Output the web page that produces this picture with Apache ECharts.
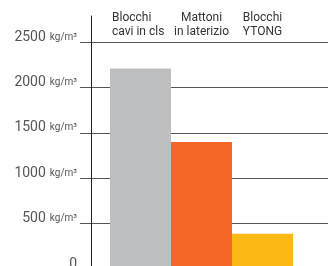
<!DOCTYPE html>
<html>
<head>
<meta charset="utf-8">
<script src="https://cdn.jsdelivr.net/npm/echarts@6/dist/echarts.min.js"></script>
<style>
  html, body { margin: 0; padding: 0; background: #fff; }
  #charts { width: 328px; height: 266px; }
</style>
</head>
<body>
<div id="charts"></div>
<script>
var categories = ['Blocchi\ncavi in cls', 'Mattoni\nin laterizio', 'Blocchi\nYTONG'];
var densities = [2210, 1400, 390];
var unit = 'kg/m³';
var barColors = ['#bdbec0', '#f46624', '#fdb913'];

var myChart = echarts.init(document.getElementById('charts'));
var font = 'Roboto';

var option = {
    animation: false,
    grid: [
        { left: 80, right: 0, top: 16, bottom: -3, outerBoundsMode: 'none' },
        { left: 110, right: 35, top: 16, bottom: -3, outerBoundsMode: 'none' }
    ],
    xAxis: [
        { gridIndex: 0, type: 'value', show: false },
        {
            gridIndex: 1,
            type: 'category',
            data: categories,
            position: 'top',
            axisLine: { show: false },
            axisTick: { show: false },
            axisLabel: {
                interval: 0,
                hideOverlap: false,
                margin: 5,
                verticalAlign: 'top',
                fontFamily: font,
                fontSize: 12,
                lineHeight: 14,
                color: '#333',
                formatter: function (v, i) {
                    var lines = v.split('\n');
                    var tag = i === 0 ? 'l' : 'c';
                    return lines.map(function (s) { return '{' + tag + '|' + s + '}'; }).join('\n');
                },
                rich: {
                    l: { width: 57, align: 'left', fontFamily: font, fontSize: 12, lineHeight: 14, color: '#333' },
                    c: { fontFamily: font, fontSize: 12, lineHeight: 14, color: '#333' }
                }
            }
        }
    ],
    yAxis: [
        {
            gridIndex: 0,
            type: 'value',
            min: 0,
            max: 2790,
            interval: 500,
            offset: -11,
            axisLine: { show: true, lineStyle: { color: '#222', width: 1 } },
            axisTick: { show: false },
            splitLine: { show: true, showMaxLine: false, lineStyle: { color: '#555', width: 1 } },
            axisLabel: {
                margin: 14,
                showMaxLabel: false,
                hideOverlap: false,
                verticalAlign: 'bottom',
                formatter: function (v) {
                    if (v === 0) return '{n|0}';
                    if (v % 500) return '';
                    return '{n|' + v + '}{u|' + unit + '}';
                },
                rich: {
                    n: { fontFamily: font, fontSize: 14, lineHeight: 10, color: '#555' },
                    u: { fontFamily: font, fontSize: 10, lineHeight: 10, color: '#555', padding: [0, 0, 0, 4] }
                }
            }
        },
        { gridIndex: 1, type: 'value', min: 0, max: 2790, show: false }
    ],
    series: [
        {
            type: 'bar',
            xAxisIndex: 1,
            yAxisIndex: 1,
            barWidth: '100%',
            data: densities.map(function (v, i) {
                return { value: v, itemStyle: { color: barColors[i] } };
            })
        }
    ]
};

myChart.setOption(option);
</script>
</body>
</html>
